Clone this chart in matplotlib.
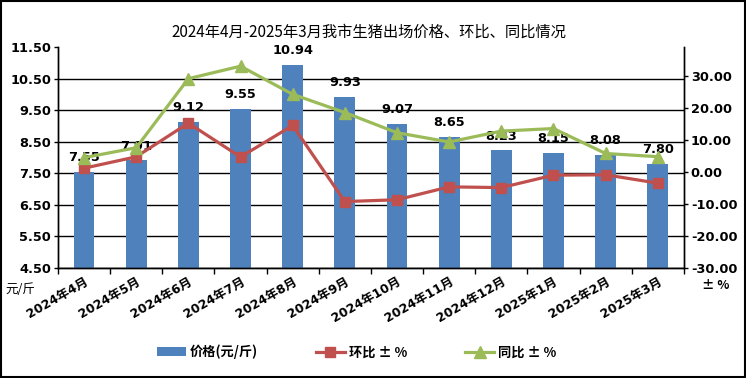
import numpy as np
import matplotlib.pyplot as plt
from matplotlib.patches import Rectangle
from matplotlib.ticker import FormatStrFormatter

months = ['2024年4月', '2024年5月', '2024年6月', '2024年7月', '2024年8月', '2024年9月',
          '2024年10月', '2024年11月', '2024年12月', '2025年1月', '2025年2月', '2025年3月']
price = [7.55, 7.91, 9.12, 9.55, 10.94, 9.93, 9.07, 8.65, 8.23, 8.15, 8.08, 7.80]
mom = [1.2, 4.77, 15.3, 4.71, 14.56, -9.23, -8.66, -4.63, -4.86, -0.97, -0.86, -3.47]
yoy = [4.5, 7.6, 29.2, 33.1, 24.3, 18.6, 12.3, 9.4, 12.8, 13.6, 5.8, 4.8]
legend_names = ['价格(元/斤)', '环比 ± %', '同比 ± %']

mixed = ['DejaVu Sans', 'Noto Sans CJK SC']
cjk = ['Noto Sans CJK SC', 'DejaVu Sans']

fig = plt.figure(figsize=(7.46, 3.78), dpi=100)
ax = fig.add_axes([0.0777, 0.291, 0.839, 0.5847])
ax2 = ax.twinx()

x = np.arange(len(months))
bars = ax.bar(x, price, width=0.4, color='#4F81BD', zorder=2)
for xi, v in zip(x, price):
    ax.annotate('%.2f' % v, (xi, v), xytext=(0, 5.5), textcoords='offset points',
                ha='center', va='bottom', fontsize=9.3, fontweight='bold', family=mixed)

l1, = ax2.plot(x, mom, color='#C0504D', lw=2.3, marker='s', markersize=7)
l2, = ax2.plot(x, yoy, color='#9BBB59', lw=2.3, marker='^', markersize=8)

ax.set_xlim(-0.5, len(months) - 0.5)
ax.set_ylim(4.5, 11.5)
ax.set_yticks(np.arange(4.5, 11.6, 1.0))
ax.yaxis.set_major_formatter(FormatStrFormatter('%.2f'))
ax2.set_ylim(-30, 39.1)
ax2.set_yticks(np.arange(-30, 31, 10))
ax2.yaxis.set_major_formatter(FormatStrFormatter('%.2f'))

ax.set_axisbelow(True)
ax.grid(axis='y', color='black', lw=1)
ax.get_ygridlines()[-1].set_visible(False)

ax.set_xticks(x)
ax.set_xticks(np.arange(-0.5, len(months), 1), minor=True)
ax.set_xticklabels(months)
ax.tick_params(axis='x', which='major', length=0, pad=5)
ax.tick_params(axis='x', which='minor', length=4, width=1, direction='out')
plt.setp(ax.get_xticklabels(), rotation=30, ha='right', rotation_mode='anchor',
         fontsize=9, fontweight='bold', family=mixed)
ax.tick_params(axis='y', length=3, width=1, pad=2)
ax2.tick_params(axis='y', length=3, width=1, pad=2)
for lab in ax.get_yticklabels() + ax2.get_yticklabels():
    lab.set_fontweight('bold')
    lab.set_fontsize(9.3)

for a in (ax, ax2):
    a.spines['top'].set_visible(False)
    for s in ('left', 'right', 'bottom'):
        a.spines[s].set_color('black')
        a.spines[s].set_linewidth(1)

fig.text(0.495, 0.915, '2024年4月-2025年3月我市生猪出场价格、环比、同比情况',
         ha='center', va='center', fontsize=11, family=cjk)
fig.text(0.027, 0.233, '元/斤', ha='center', va='center', fontsize=9, family=cjk)
fig.text(0.96, 0.246, '± %', ha='center', va='center', fontsize=9, fontweight='bold', family=cjk)

fig.legend([bars, l1, l2], legend_names, loc='center',
           bbox_to_anchor=(0.478, 0.069), ncol=3, frameon=False, columnspacing=4.4,
           handlelength=2.2, handletextpad=0.3, numpoints=1,
           prop={'family': cjk, 'size': 9.5, 'weight': 'bold'})

fig.patches.append(Rectangle((0.001, 0.002), 0.997, 0.995, transform=fig.transFigure,
                             fill=False, edgecolor='black', lw=1.5))

fig.savefig('out.png', dpi=100)
